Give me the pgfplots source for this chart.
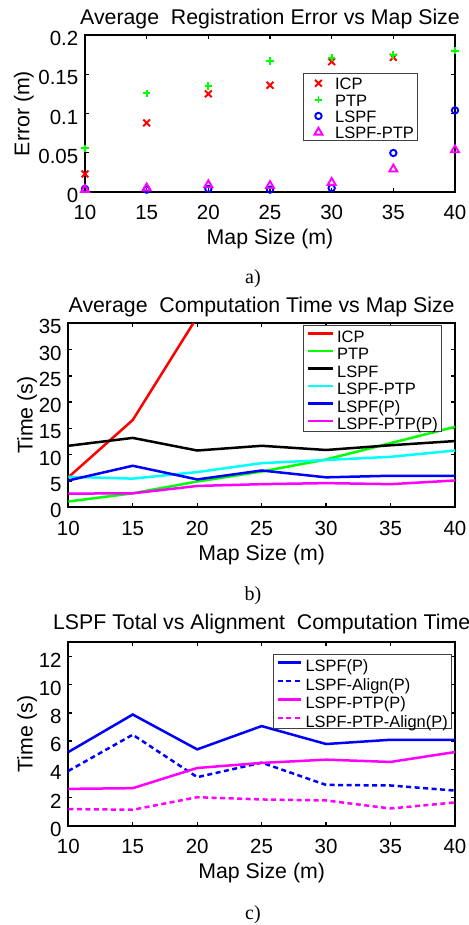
\documentclass[border=0pt]{standalone}
\usepackage{fontspec}
\setmainfont{Liberation Sans}
\newfontfamily\capfont{Liberation Serif}
\usepackage{pgfplots}
\pgfplotsset{compat=1.18}

\definecolor{mred}{RGB}{255,0,0}
\definecolor{mgreen}{RGB}{0,255,0}
\definecolor{mblue}{RGB}{0,0,255}
\definecolor{mmag}{RGB}{255,0,255}
\definecolor{mcyan}{RGB}{0,255,255}

\pgfplotsset{
  mlab/.style={
    scale only axis, anchor=south west,
    xmin=10, xmax=40, xtick={10,15,...,40},
    tick align=inside, major tick length=4bp,
    axis line style={line width=1.9bp},
    tick style={black, line width=1.4bp},
    /pgf/number format/assume math mode=true,
    tick label style={font=\fontsize{20.5bp}{20.5bp}\selectfont},
    xticklabel style={anchor=base, inner sep=0pt, yshift=-28bp},
    yticklabel style={anchor=east, inner sep=0pt, xshift=-6.5bp, yshift=-3.5bp},
    every axis title/.style={at={(0.5,1)}, anchor=base, yshift=10.7bp,
      font=\fontsize{21.3bp}{21.3bp}\selectfont},
    every axis x label/.style={at={(0.5,0)}, anchor=base, yshift=-53bp,
      font=\fontsize{21.3bp}{21.3bp}\selectfont},
    xlabel={Map Size (m)},
    legend style={draw=black!75, line width=0.7bp, anchor=north west,
      font=\fontsize{16.5bp}{16.5bp}\selectfont, row sep=0pt,
      cells={anchor=base west}},
  },
  ylab/.style={every axis y label/.style={at={(0,0.5)}, xshift=#1, rotate=90,
      anchor=base, font=\fontsize{21.3bp}{21.3bp}\selectfont}},
  dsh/.style={dash pattern=on 5bp off 3.5bp},
}

\begin{document}
\begin{tikzpicture}
\path[use as bounding box, fill=white] (0,0) rectangle (469bp,925bp);

% a) registration error
\begin{axis}[mlab, ylab=-55.7bp,
  at={(85bp,733bp)}, width=370bp, height=157bp,
  ymin=0, ymax=0.2, ytick={0,0.05,0.1,0.15,0.2},
  yticklabels={0,0.05,0.1,0.15,0.2},
  title={Average\ \ Registration Error vs Map Size},
  ylabel={Error (m)},
  legend style={at={(0.588,0.756)}, inner xsep=3bp, inner ysep=0.7bp,
    column sep=5.3bp, nodes={inner sep=0pt, text height=15.4bp, text depth=0pt}},
  legend image code/.code={\path (0bp,0bp) (22bp,0bp);
    \draw[#1] plot coordinates {(11.6bp,6.5bp)};},
]
\addplot[only marks, mark=x, mred, mark size=4.8bp, line width=1.9bp] coordinates {
  (10,0.023) (15,0.088) (20,0.125) (25,0.136) (30,0.166) (35,0.1715)};
\addplot[only marks, mark=+, mgreen, mark size=3.6bp, line width=1.9bp] coordinates {
  (10,0.0557) (15,0.1257) (20,0.135) (25,0.1669) (30,0.171) (35,0.1745) (40,0.180)};
\addplot[only marks, mark=o, mblue, mark size=3.2bp, line width=1.9bp] coordinates {
  (10,0.004) (15,0.003) (20,0.004) (25,0.003) (30,0.005) (35,0.0497) (40,0.104)};
\addplot[only marks, mark=triangle, mmag, mark size=4.6bp, line width=1.9bp] coordinates {
  (10,0.003) (15,0.005) (20,0.009) (25,0.008) (30,0.012) (35,0.029) (40,0.0535)};
\legend{ICP,PTP,LSPF,LSPF-PTP}
\end{axis}

% b) computation time
\begin{axis}[mlab, ylab=-35.6bp,
  at={(68.3bp,417.7bp)}, width=386.7bp, height=184bp,
  ymin=0, ymax=35, ytick={0,5,...,35},
  title={Average\ \ Computation Time vs Map Size},
  ylabel={Time (s)},
  legend style={at={(0.606,0.991)}, inner xsep=3.3bp, inner ysep=0.5bp,
    column sep=3.3bp, nodes={inner sep=0pt, text height=16.3bp, text depth=0pt}},
  legend image code/.code={\path (0bp,0bp) (25bp,0bp);
    \draw[#1] (0bp,8.7bp) -- (25bp,8.7bp);},
]
\addplot[mred, line width=2.5bp] coordinates {(10,5.7) (15,16.6) (20,36.2)};
\addplot[mgreen, line width=2.5bp] coordinates {
  (10,1.1) (15,2.66) (20,4.9) (25,6.8) (30,9.1) (35,12.2) (40,15.3)};
\addplot[black, line width=2.5bp] coordinates {
  (10,11.7) (15,13.2) (20,10.8) (25,11.7) (30,10.9) (35,11.8) (40,12.6)};
\addplot[mcyan, line width=2.5bp] coordinates {
  (10,5.8) (15,5.45) (20,6.7) (25,8.4) (30,9.0) (35,9.6) (40,10.8)};
\addplot[mblue, line width=2.5bp] coordinates {
  (10,5.1) (15,7.9) (20,5.3) (25,7.0) (30,5.7) (35,6.0) (40,6.0)};
\addplot[mmag, line width=2.5bp] coordinates {
  (10,2.6) (15,2.66) (20,4.06) (25,4.4) (30,4.6) (35,4.4) (40,5.1)};
\legend{ICP,PTP,LSPF,LSPF-PTP,LSPF(P),LSPF-PTP(P)}
\end{axis}

% c) total vs alignment
\begin{axis}[mlab, ylab=-35.6bp,
  at={(68.3bp,99.3bp)}, width=386.7bp, height=183.4bp,
  ymin=0, ymax=13, ytick={0,2,...,12},
  title={LSPF Total vs Alignment\ \ Computation Time},
  title style={yshift=1.6bp},
  ylabel={Time (s)},
  legend style={at={(0.5286,0.9346)}, inner xsep=3.3bp, inner ysep=0pt,
    column sep=3.7bp, nodes={inner sep=0pt, text height=17.2bp, text depth=0pt},
    font=\fontsize{16.4bp}{16.4bp}\selectfont},
  legend image code/.code={\path (0bp,0bp) (23bp,0bp);
    \draw[#1] (0bp,9.2bp) -- (23bp,9.2bp);},
]
\addplot[mblue, line width=2.5bp] coordinates {
  (10,5.22) (15,7.88) (20,5.41) (25,7.06) (30,5.79) (35,6.09) (40,6.09)};
\addplot[mblue, line width=2.5bp, dsh] coordinates {
  (10,3.88) (15,6.45) (20,3.44) (25,4.47) (30,2.89) (35,2.85) (40,2.49)};
\addplot[mmag, line width=2.5bp] coordinates {
  (10,2.61) (15,2.66) (20,4.09) (25,4.45) (30,4.68) (35,4.52) (40,5.22)};
\addplot[mmag, line width=2.5bp, dsh] coordinates {
  (10,1.18) (15,1.13) (20,2.02) (25,1.86) (30,1.79) (35,1.22) (40,1.65)};
\legend{LSPF(P),LSPF-Align(P),LSPF-PTP(P),LSPF-PTP-Align(P)}
\end{axis}

\node[font=\capfont\fontsize{20bp}{20bp}\selectfont, anchor=base] at (253bp,641bp) {a)};
\node[font=\capfont\fontsize{20bp}{20bp}\selectfont, anchor=base] at (253bp,324bp) {b)};
\node[font=\capfont\fontsize{20bp}{20bp}\selectfont, anchor=base] at (253bp,6bp) {c)};
\end{tikzpicture}
\end{document}
